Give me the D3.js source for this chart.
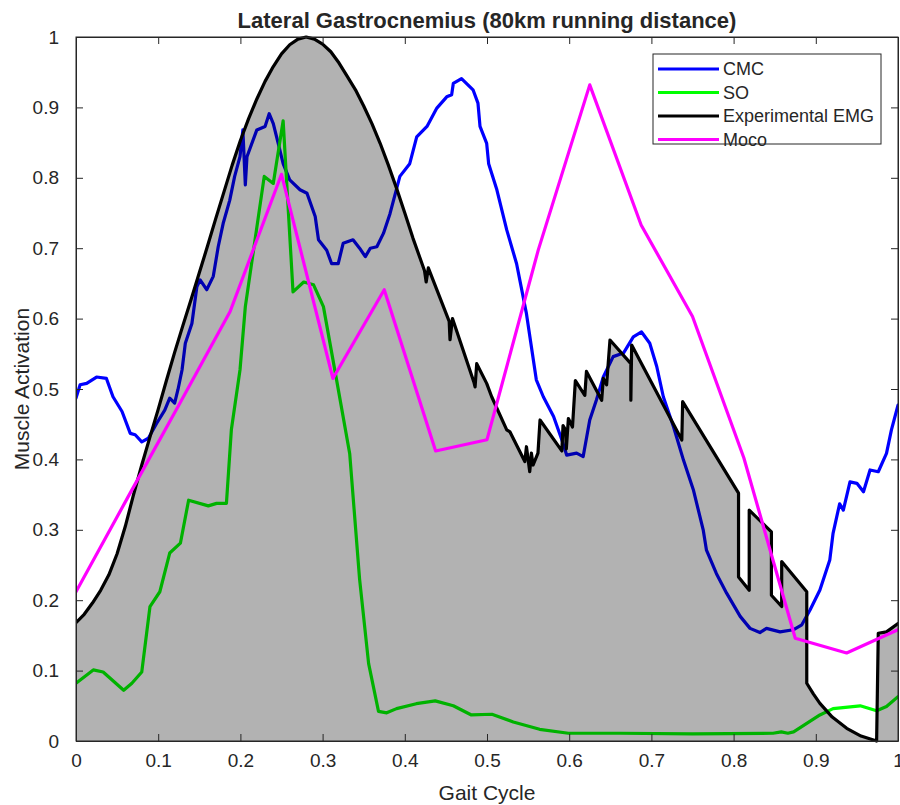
<!DOCTYPE html>
<html>
<head>
<meta charset="utf-8">
<script src="https://cdn.jsdelivr.net/npm/d3@7"></script>
<style>
  html, body { margin: 0; padding: 0; background: #fff; }
  svg text { font-family: "Liberation Sans", Arial, Helvetica, sans-serif; fill: #262626; }
</style>
</head>
<body>
<svg id="chart" width="900" height="805"></svg>
<script>
// Gait cycle fraction vs. muscle activation, one array of [x, y] pairs per series
const cmc = [
  [0,0.487],[0.005,0.506],[0.013,0.508],[0.025,0.517],[0.037,0.515],[0.045,0.489],[0.056,0.468],
  [0.066,0.437],[0.072,0.435],[0.080,0.425],[0.088,0.430],[0.098,0.451],[0.108,0.470],[0.114,0.487],
  [0.120,0.480],[0.124,0.499],[0.129,0.527],[0.133,0.565],[0.141,0.593],[0.147,0.645],[0.151,0.655],
  [0.159,0.641],[0.167,0.660],[0.173,0.702],[0.179,0.735],[0.187,0.768],[0.193,0.802],[0.1995,0.830],
  [0.203,0.868],[0.206,0.790],[0.208,0.830],[0.220,0.868],[0.230,0.873],[0.235,0.891],[0.240,0.877],
  [0.246,0.849],[0.252,0.820],[0.260,0.797],[0.2725,0.783],[0.281,0.778],[0.291,0.745],[0.295,0.712],
  [0.305,0.697],[0.311,0.678],[0.319,0.678],[0.325,0.707],[0.337,0.712],[0.345,0.700],[0.352,0.688],
  [0.358,0.700],[0.366,0.702],[0.374,0.721],[0.382,0.749],[0.394,0.802],[0.406,0.820],[0.4145,0.858],
  [0.427,0.873],[0.439,0.899],[0.451,0.915],[0.457,0.918],[0.459,0.934],[0.469,0.941],[0.483,0.925],
  [0.489,0.906],[0.4915,0.873],[0.4996,0.849],[0.502,0.820],[0.512,0.783],[0.524,0.726],[0.536,0.678],
  [0.548,0.607],[0.560,0.513],[0.5685,0.489],[0.581,0.461],[0.591,0.428],[0.597,0.406],[0.609,0.409],
  [0.617,0.404],[0.625,0.456],[0.633,0.484],[0.6415,0.517],[0.6535,0.546],[0.666,0.551],[0.678,0.574],
  [0.688,0.581],[0.698,0.565],[0.7065,0.532],[0.7145,0.489],[0.727,0.446],[0.739,0.399],[0.751,0.357],
  [0.763,0.300],[0.767,0.271],[0.779,0.238],[0.7915,0.210],[0.808,0.177],[0.820,0.160],[0.832,0.154],
  [0.840,0.160],[0.8565,0.155],[0.8725,0.158],[0.883,0.165],[0.893,0.186],[0.905,0.2145],[0.917,0.257],
  [0.921,0.295],[0.929,0.337],[0.9335,0.328],[0.9416,0.368],[0.950,0.366],[0.958,0.354],[0.966,0.385],
  [0.976,0.3825],[0.986,0.4085],[0.992,0.442],[1.0,0.477]
];

const so = [
  [0,0.082],[0.021,0.101],[0.033,0.098],[0.058,0.072],[0.068,0.082],[0.080,0.098],[0.090,0.191],
  [0.102,0.212],[0.114,0.267],[0.127,0.281],[0.137,0.342],[0.161,0.334],[0.171,0.3375],[0.183,0.3375],
  [0.189,0.442],[0.1995,0.527],[0.206,0.617],[0.229,0.802],[0.240,0.792],[0.252,0.881],[0.264,0.638],
  [0.277,0.652],[0.289,0.648],[0.301,0.617],[0.317,0.513],[0.333,0.408],[0.345,0.230],[0.356,0.110],
  [0.368,0.042],[0.378,0.040],[0.390,0.046],[0.414,0.053],[0.437,0.057],[0.459,0.050],[0.481,0.037],
  [0.506,0.038],[0.532,0.027],[0.564,0.0166],[0.599,0.011],[0.662,0.011],[0.75,0.010],[0.848,0.011],
  [0.858,0.013],[0.866,0.011],[0.873,0.013],[0.889,0.025],[0.905,0.037],[0.921,0.046],[0.954,0.050],
  [0.974,0.043],[0.986,0.049],[1.0,0.063]
];

const emg = [
  [0,0.168],[0.01,0.180],[0.02,0.196],[0.03,0.214],[0.04,0.236],[0.05,0.266],[0.06,0.305],[0.07,0.350],
  [0.08,0.392],[0.09,0.432],[0.10,0.471],[0.11,0.512],[0.12,0.552],[0.13,0.590],[0.14,0.627],[0.15,0.665],
  [0.16,0.703],[0.17,0.742],[0.18,0.780],[0.19,0.818],[0.20,0.853],[0.21,0.884],[0.22,0.912],[0.23,0.937],
  [0.24,0.958],[0.25,0.976],[0.26,0.989],[0.27,0.997],[0.28,1.0],[0.29,0.997],[0.30,0.990],[0.31,0.979],
  [0.32,0.963],[0.33,0.944],[0.34,0.925],[0.35,0.902],[0.36,0.877],[0.37,0.849],[0.38,0.818],[0.39,0.785],
  [0.40,0.750],[0.41,0.714],[0.424,0.668],[0.426,0.652],
  [0.4286,0.672],[0.454,0.596],[0.455,0.570],[0.458,0.600],[0.484,0.510],[0.4855,0.503],[0.4875,0.536],
  [0.4996,0.508],[0.5057,0.489],[0.524,0.442],[0.528,0.439],[0.546,0.397],[0.548,0.418],[0.552,0.3825],
  [0.554,0.409],[0.556,0.392],[0.562,0.409],[0.5645,0.456],[0.591,0.412],[0.5925,0.448],[0.5955,0.442],
  [0.5965,0.415],[0.599,0.458],[0.604,0.446],[0.6075,0.512],[0.619,0.491],[0.621,0.525],[0.6395,0.484],
  [0.6415,0.515],[0.6455,0.506],[0.6496,0.5696],[0.675,0.536],[0.675,0.484],[0.676,0.5625],[0.737,0.4275],
  [0.738,0.482],[0.806,0.352],[0.806,0.233],[0.819,0.214],[0.819,0.328],[0.846,0.297],[0.846,0.207],
  [0.8585,0.191],[0.8585,0.255],[0.889,0.212],[0.889,0.082],[0.897,0.067],[0.905,0.0535],[0.92,0.034],
  [0.9376,0.018],[0.955,0.007],[0.974,0.0],[0.976,0.153],[0.986,0.155],[1.0,0.167]
];

const moco = [
  [0,0.212],[0.0625,0.345],[0.125,0.477],[0.1875,0.610],[0.25,0.805],[0.3125,0.515],[0.375,0.641],
  [0.4375,0.412],[0.5,0.428],[0.5625,0.698],[0.625,0.932],[0.6875,0.733],[0.75,0.603],[0.8125,0.402],
  [0.875,0.146],[0.9375,0.125],[1.0,0.158]
];

const xTicks = [0, 0.1, 0.2, 0.3, 0.4, 0.5, 0.6, 0.7, 0.8, 0.9, 1];
const yTicks = [0, 0.1, 0.2, 0.3, 0.4, 0.5, 0.6, 0.7, 0.8, 0.9, 1];
const legendNames = ["CMC", "SO", "Experimental EMG", "Moco"];
const legendColors = ["#0000ff", "#00ff00", "#000000", "#ff00ff"];

const titleText = "Lateral Gastrocnemius (80km running distance)";
const xLabel = "Gait Cycle";
const yLabel = "Muscle Activation";

// Layout
const plotLeft = 76, plotRight = 898, plotTop = 37, plotBottom = 741;
const axisColor = "#262626";
const svg = d3.select("#chart");

const x = d3.scaleLinear().domain([0, 1]).range([plotLeft, plotRight]);
const y = d3.scaleLinear().domain([0, 1]).range([plotBottom, plotTop]);

svg.append("defs").append("clipPath").attr("id", "plotClip")
  .append("rect").attr("x", plotLeft).attr("y", plotTop - 2)
  .attr("width", plotRight - plotLeft).attr("height", plotBottom - plotTop + 4);

const plot = svg.append("g").attr("clip-path", "url(#plotClip)");
const line = d3.line().x(d => x(d[0])).y(d => y(d[1]));
const area = d3.area().x(d => x(d[0])).y0(y(0)).y1(d => y(d[1]));

function drawLine(data, color) {
  plot.append("path").datum(data)
    .attr("d", line)
    .attr("fill", "none")
    .attr("stroke", color)
    .attr("stroke-width", 3.2)
    .attr("stroke-linejoin", "round")
    .attr("stroke-linecap", "round");
}

drawLine(cmc, legendColors[0]);
drawLine(so, legendColors[1]);

// Translucent shading under the EMG envelope darkens the lines beneath it
plot.append("path").datum(emg)
  .attr("d", area)
  .attr("fill", "#000")
  .attr("fill-opacity", 0.3);

drawLine(emg, legendColors[2]);
drawLine(moco, legendColors[3]);

// Axes box with inward ticks on all four sides
const tickLen = 7;
const axes = svg.append("g");
axes.append("rect")
  .attr("x", plotLeft).attr("y", plotTop)
  .attr("width", plotRight - plotLeft).attr("height", plotBottom - plotTop)
  .attr("fill", "none").attr("stroke", axisColor).attr("stroke-width", 1);

const bottomAxis = d3.axisBottom(x).tickValues(xTicks).tickSizeInner(-tickLen).tickSizeOuter(0)
  .tickPadding(13).tickFormat(d3.format("~g"));
const topAxis = d3.axisTop(x).tickValues(xTicks).tickSizeInner(-tickLen).tickSizeOuter(0).tickFormat("");
const leftAxis = d3.axisLeft(y).tickValues(yTicks).tickSizeInner(-tickLen).tickSizeOuter(0)
  .tickPadding(17).tickFormat(d3.format("~g"));
const rightAxis = d3.axisRight(y).tickValues(yTicks).tickSizeInner(-tickLen).tickSizeOuter(0).tickFormat("");

function styleAxis(g) {
  g.select(".domain").attr("stroke", axisColor);
  g.selectAll(".tick line").attr("stroke", axisColor);
  g.selectAll(".tick text").attr("fill", axisColor)
    .style("font-family", '"Liberation Sans", Arial, sans-serif').style("font-size", "19px");
}

axes.append("g").attr("transform", `translate(0,${plotBottom})`).call(bottomAxis).call(styleAxis);
axes.append("g").attr("transform", `translate(0,${plotTop})`).call(topAxis).call(styleAxis);
axes.append("g").attr("transform", `translate(${plotLeft},0)`).call(leftAxis).call(styleAxis);
axes.append("g").attr("transform", `translate(${plotRight},0)`).call(rightAxis).call(styleAxis);

// Title and axis labels
svg.append("text")
  .attr("x", (plotLeft + plotRight) / 2).attr("y", 28)
  .attr("text-anchor", "middle")
  .style("font-size", "22px").style("font-weight", "bold")
  .attr("fill", "#000")
  .text(titleText);

svg.append("text")
  .attr("x", (plotLeft + plotRight) / 2).attr("y", 800)
  .attr("text-anchor", "middle")
  .style("font-size", "21px")
  .text(xLabel);

svg.append("text")
  .attr("transform", `translate(29,${(plotTop + plotBottom) / 2}) rotate(-90)`)
  .attr("text-anchor", "middle")
  .style("font-size", "21px")
  .text(yLabel);

// Legend
const lg = svg.append("g");
lg.append("rect")
  .attr("x", 653).attr("y", 54).attr("width", 228).attr("height", 90)
  .attr("fill", "#fff").attr("stroke", axisColor).attr("stroke-width", 1);
legendNames.forEach((name, i) => {
  const ly = 69 + i * 23.5;
  lg.append("line")
    .attr("x1", 658).attr("x2", 719).attr("y1", ly).attr("y2", ly)
    .attr("stroke", legendColors[i]).attr("stroke-width", 3.2);
  lg.append("text")
    .attr("x", 723).attr("y", ly + 6)
    .style("font-size", "18px").attr("fill", "#000")
    .text(name);
});
</script>
</body>
</html>
